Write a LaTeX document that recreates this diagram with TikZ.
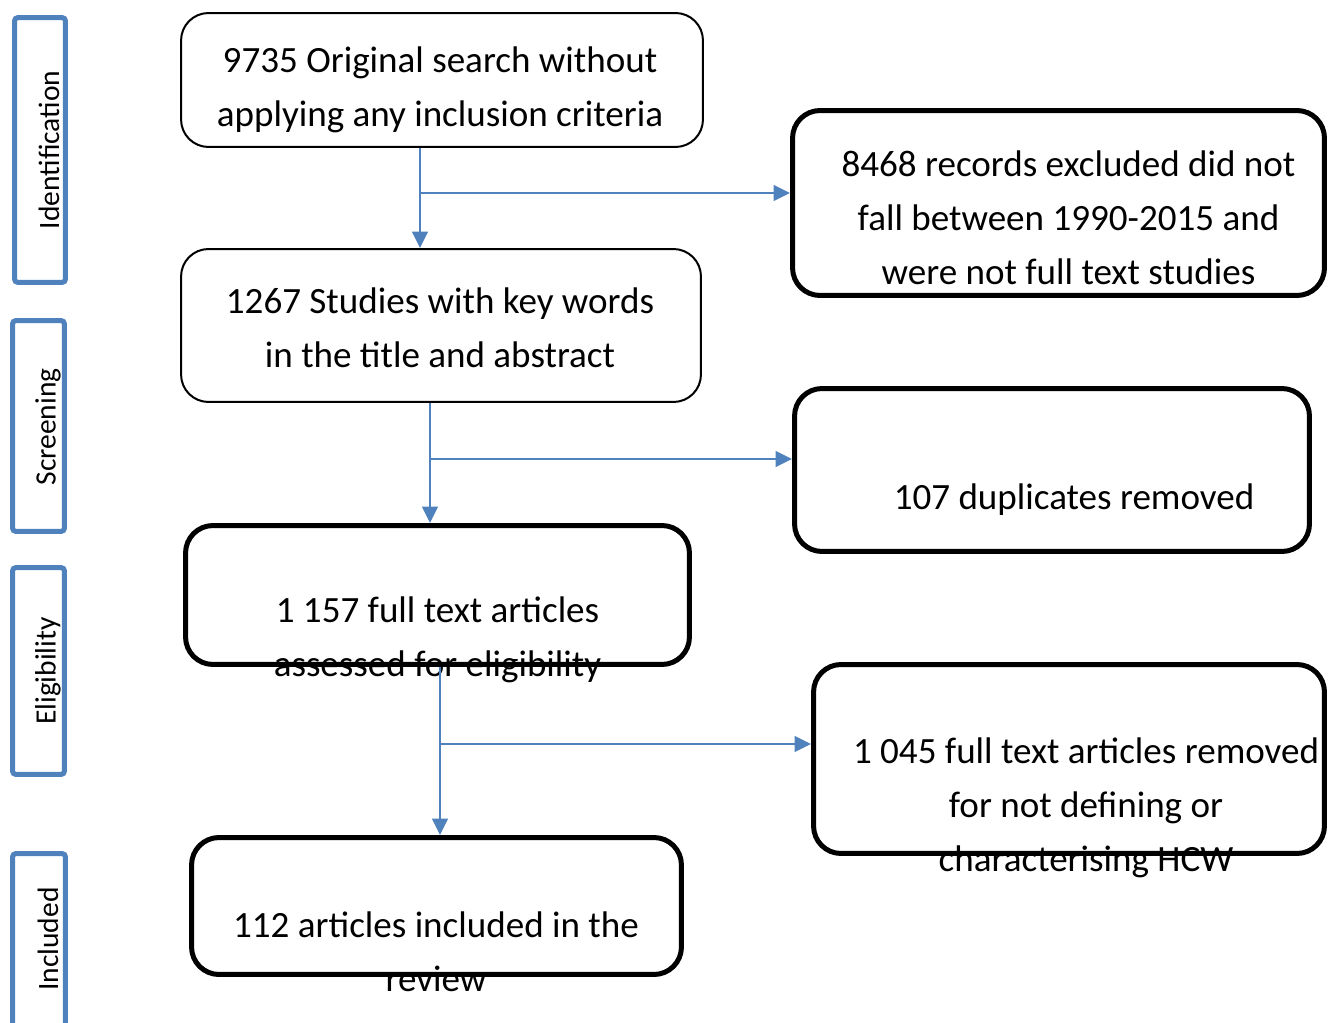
\documentclass[tikz,border=0pt]{standalone}
\usepackage{fontspec}
\setmainfont{Carlito}
\usetikzlibrary{arrows.meta, calc}
\definecolor{stage-blue}{RGB}{79,129,189}

\begin{document}
\begin{tikzpicture}[
    x=0.02cm, y=-0.02cm,
    stage/.style={rectangle, draw=stage-blue, line width=0.1cm, rounded corners=2pt, inner sep=0pt},
    stagetext/.style={rotate=90, font=\fontsize{16.8}{20}\selectfont, inner sep=0pt},
    thinbox/.style={rectangle, draw=black, line width=0.04cm, rounded corners=0.55cm, inner sep=0pt},
    thickbox/.style={thinbox, line width=0.1cm},
    boxtext/.style={align=center, font=\fontsize{21.1}{30.7}\selectfont, inner sep=0pt},
    flow/.style={draw=stage-blue, line width=0.055cm, -{Triangle[length=0.33cm, width=0.31cm]}}
]
\useasboundingbox (0,0) rectangle (1337,1023);

% Stages (left side)
\node[stage, minimum width=1.02cm, minimum height=5.30cm] (stage-ident) at (40,150) {};
\node[stagetext] (stage-ident-label) at (49,150) {Identification};
\node[stage, minimum width=1.04cm, minimum height=4.22cm] (stage-screen) at (38.5,426) {};
\node[stagetext] (stage-screen-label) at (48,427) {Screening};
\node[stage, minimum width=1.04cm, minimum height=4.14cm] (stage-elig) at (38.5,671) {};
\node[stagetext] (stage-elig-label) at (48,671) {Eligibility};
\node[stage, minimum width=1.06cm, minimum height=3.60cm] (stage-incl) at (39,943.5) {};
\node[stagetext] (stage-incl-label) at (48,939) {Included};

% Main column
\node[thinbox, minimum width=10.44cm, minimum height=2.68cm] (search) at (442,80) {};
\node[boxtext] (search-text) at (440,90) {9735 Original search without\\applying any inclusion criteria};

\node[thinbox, minimum width=10.40cm, minimum height=3.06cm] (studies) at (441,325.5) {};
\node[boxtext] (studies-text) at (440,328) {1267 Studies with key words\\in the title and abstract};

\node[thickbox, minimum width=10.08cm, minimum height=2.78cm] (fulltext) at (437.5,595) {};
\node[boxtext] (fulltext-text) at (437.5,639.5) {1 157 full text articles\\assessed for eligibility};

\node[thickbox, minimum width=9.80cm, minimum height=2.74cm] (included) at (436.5,906) {};
\node[boxtext] (included-text) at (436,952) {112 articles included in the\\review};

% Exclusions (right side)
\node[thickbox, minimum width=10.64cm, minimum height=3.70cm] (excl-date) at (1058.5,203) {};
\node[boxtext] (excl-date-text) at (1068.5,218) {8468 records excluded did not\\fall between 1990-2015 and\\were not full text studies};

\node[thickbox, minimum width=10.30cm, minimum height=3.26cm] (duplicates) at (1052,470) {};
\node[boxtext] (duplicates-text) at (1074,500) {107 duplicates removed};

\node[thickbox, minimum width=10.22cm, minimum height=3.78cm] (excl-hcw) at (1069,759) {};
\node[boxtext] (excl-hcw-text) at (1086,807.5) {1 045 full text articles removed\\for not defining or\\characterising HCW};

% Flow
\coordinate (split-1) at (420,193);
\draw[flow] (search.south -| split-1) -- (studies.north -| split-1);
\draw[flow] (split-1) -- (excl-date.west |- split-1);

\coordinate (split-2) at (430,459);
\draw[flow] (studies.south -| split-2) -- (fulltext.north -| split-2);
\draw[flow] (split-2) -- (duplicates.west |- split-2);

\coordinate (split-3) at (440,744);
\draw[flow] (fulltext.south -| split-3) -- (included.north -| split-3);
\draw[flow] (split-3) -- (excl-hcw.west |- split-3);

\end{tikzpicture}
\end{document}
